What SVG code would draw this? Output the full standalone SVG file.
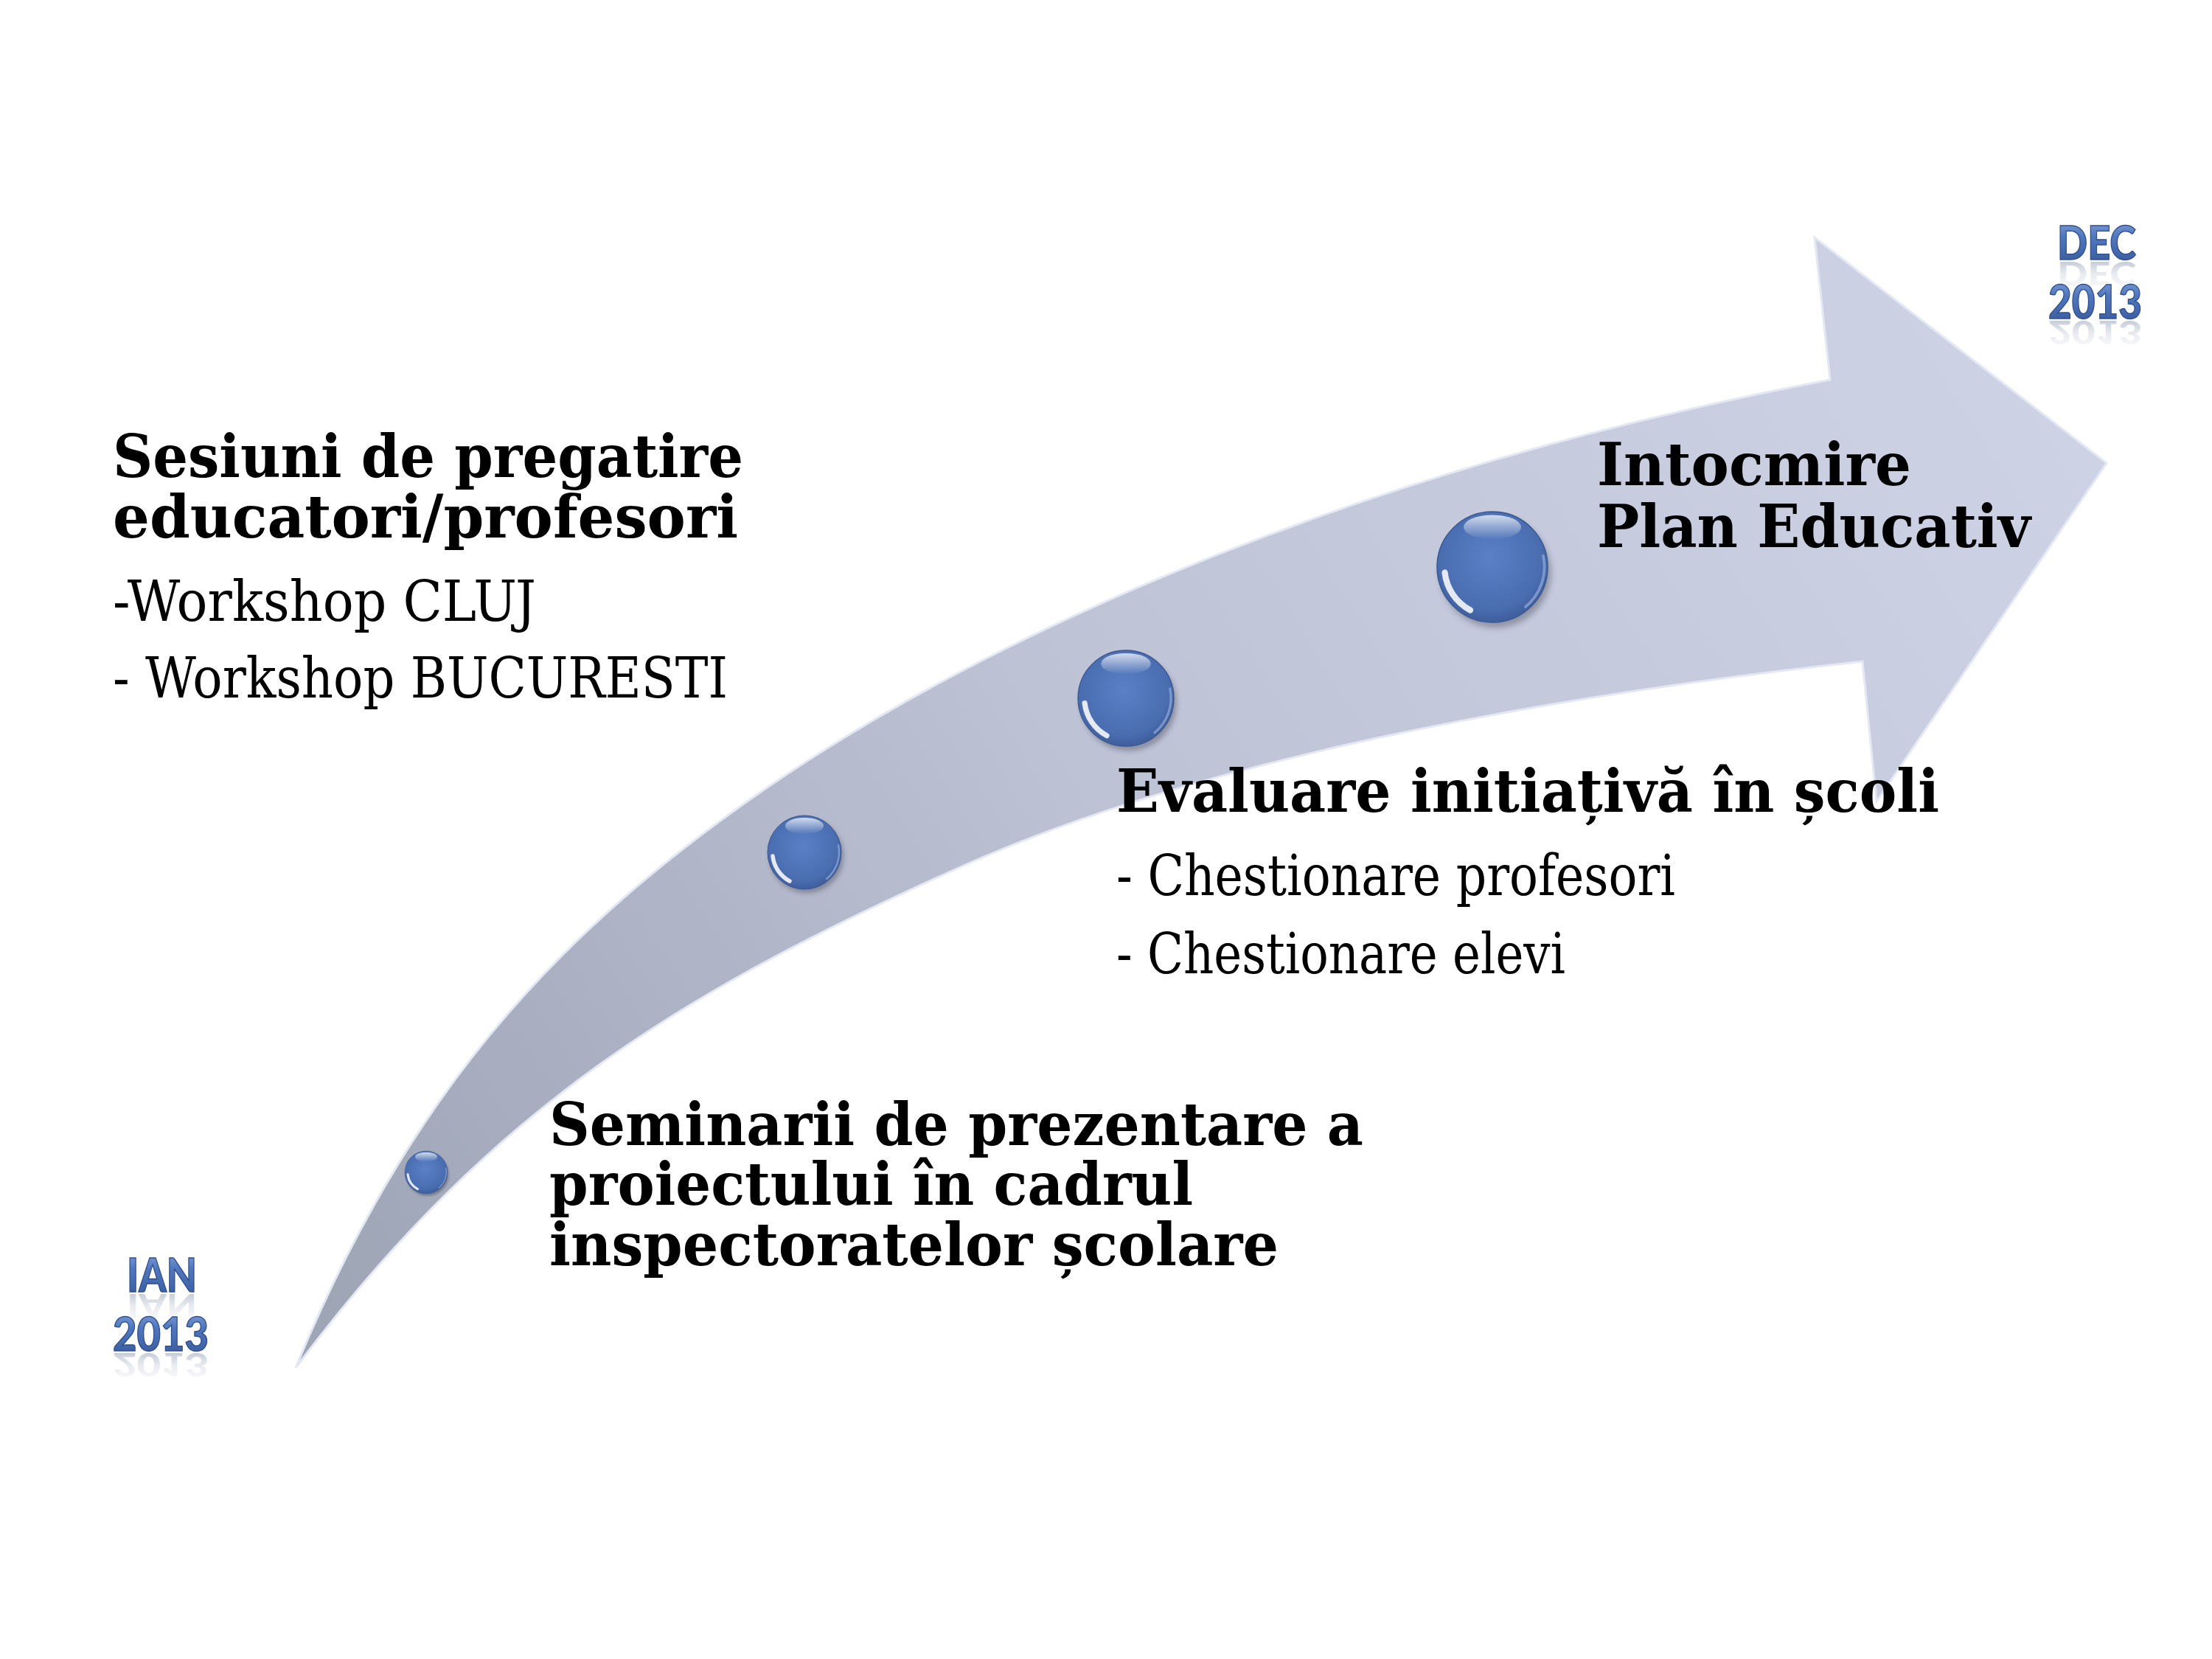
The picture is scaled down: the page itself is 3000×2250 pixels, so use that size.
<svg xmlns="http://www.w3.org/2000/svg" xmlns:xlink="http://www.w3.org/1999/xlink" width="3000" height="2250" viewBox="0 0 3000 2250">
  <defs>
    <style>
      .hb { font-family: "DejaVu Serif", "Liberation Serif", serif; font-weight: bold; font-size: 80px; fill: #000; }
      .rg { font-family: "DejaVu Serif", "Liberation Serif", serif; font-weight: normal; font-size: 76px; fill: #000; }
      .dt { font-family: Lato, "Open Sans", "Liberation Sans", sans-serif; font-weight: 900; font-size: 62px; fill: url(#dateGrad); stroke: #2f4e8a; stroke-width: 1.4; }
      .dr { font-family: Lato, "Open Sans", "Liberation Sans", sans-serif; font-weight: 900; font-size: 62px; fill: url(#reflGrad); }
    </style>
    <linearGradient id="arrowGrad" gradientUnits="userSpaceOnUse" x1="2700" y1="420" x2="480" y2="1820">
      <stop offset="0" stop-color="#cdd3e5"/>
      <stop offset="0.5" stop-color="#bec4d6"/>
      <stop offset="1" stop-color="#9ea5b5"/>
    </linearGradient>
    <linearGradient id="dateGrad" x1="0" y1="0" x2="0" y2="1">
      <stop offset="0" stop-color="#8eabdf"/>
      <stop offset="0.4" stop-color="#5077be"/>
      <stop offset="1" stop-color="#365799"/>
    </linearGradient>
    <linearGradient id="reflGrad" x1="0" y1="0" x2="0" y2="1">
      <stop offset="0" stop-color="#8f9bb3" stop-opacity="0"/>
      <stop offset="0.5" stop-color="#8f9bb3" stop-opacity="0.2"/>
      <stop offset="1" stop-color="#7f8ba5" stop-opacity="0.6"/>
    </linearGradient>
    <radialGradient id="ballGrad" cx="0.48" cy="0.42" r="0.62">
      <stop offset="0" stop-color="#5a80c6"/>
      <stop offset="0.75" stop-color="#4a6db0"/>
      <stop offset="1" stop-color="#3a5894"/>
    </radialGradient>
    <linearGradient id="ballTop" x1="0" y1="0" x2="0" y2="1">
      <stop offset="0" stop-color="#ffffff" stop-opacity="0.75"/>
      <stop offset="1" stop-color="#ffffff" stop-opacity="0"/>
    </linearGradient>
    <filter id="ballShadow" x="-50%" y="-50%" width="200%" height="200%">
      <feGaussianBlur stdDeviation="6"/>
    </filter>
    <g id="ball">
      <ellipse cx="6" cy="10" rx="100" ry="100" fill="#2a2a3a" opacity="0.35" filter="url(#ballShadow)"/>
      <circle cx="0" cy="0" r="100" fill="url(#ballGrad)" stroke="#3a5893" stroke-width="2"/>
      <ellipse cx="0" cy="-72" rx="52" ry="22" fill="url(#ballTop)"/>
      <path d="M -40 78 A 88 88 0 0 1 -86 10" fill="none" stroke="#ffffff" stroke-opacity="0.85" stroke-width="11" stroke-linecap="round"/>
      <path d="M 92 -20 A 94 94 0 0 1 60 72" fill="none" stroke="#9fb7e3" stroke-opacity="0.6" stroke-width="5" stroke-linecap="round"/>
    </g>
  </defs>

  <rect x="0" y="0" width="3000" height="2250" fill="#ffffff"/>

  <g id="timeline-arrow">
    <path d="M 401,1855 C 553,1485 752,1275 995,1100 C 1360,837 1893,627 2482,515 L 2461,322 L 2857,628 L 2545,1087 L 2526,897 C 2079,946 1619,1033.5 1300,1177 C 935,1341 671,1495 401,1855 Z" fill="url(#arrowGrad)" stroke="#e4e8f2" stroke-width="3" stroke-linejoin="miter"/>
  </g>

  <g id="connectors"></g>

  <g id="node-1"><use xlink:href="#ball" href="#ball" transform="translate(578,1590) scale(0.29)"/></g>
  <g id="node-2"><use xlink:href="#ball" href="#ball" transform="translate(1091,1156) scale(0.50)"/></g>
  <g id="node-3"><use xlink:href="#ball" href="#ball" transform="translate(1527,947) scale(0.65)"/></g>
  <g id="node-4"><use xlink:href="#ball" href="#ball" transform="translate(2024,769) scale(0.75)"/></g>

  <g id="label-sesiuni">
    <text class="hb" x="153" y="647" textLength="855" lengthAdjust="spacingAndGlyphs">Sesiuni de pregatire</text>
    <text class="hb" x="153" y="729" textLength="848" lengthAdjust="spacingAndGlyphs">educatori/profesori</text>
    <text class="rg" x="153" y="842" textLength="574" lengthAdjust="spacingAndGlyphs">-Workshop CLUJ</text>
    <text class="rg" x="153" y="946" textLength="834" lengthAdjust="spacingAndGlyphs">- Workshop BUCURESTI</text>
  </g>

  <g id="label-intocmire">
    <text class="hb" x="2166" y="658" textLength="426" lengthAdjust="spacingAndGlyphs">Intocmire</text>
    <text class="hb" x="2166" y="742" textLength="588" lengthAdjust="spacingAndGlyphs">Plan Educativ</text>
  </g>

  <g id="label-evaluare">
    <text class="hb" x="1514" y="1101" textLength="1116" lengthAdjust="spacingAndGlyphs">Evaluare initiațivă în școli</text>
    <text class="rg" x="1514" y="1214" textLength="758" lengthAdjust="spacingAndGlyphs">- Chestionare profesori</text>
    <text class="rg" x="1514" y="1320" textLength="609" lengthAdjust="spacingAndGlyphs">- Chestionare elevi</text>
  </g>

  <g id="label-seminarii">
    <text class="hb" x="745" y="1553" textLength="1104" lengthAdjust="spacingAndGlyphs">Seminarii de prezentare a</text>
    <text class="hb" x="745" y="1634" textLength="873" lengthAdjust="spacingAndGlyphs">proiectului în cadrul</text>
    <text class="hb" x="745" y="1716" textLength="989" lengthAdjust="spacingAndGlyphs">inspectoratelor școlare</text>
  </g>

  <g id="date-start">
    <text class="dr" x="172" y="1752" textLength="95" lengthAdjust="spacingAndGlyphs" transform="translate(0,2981.4) scale(1,-0.7)">IAN</text>
    <text class="dr" x="153" y="1832" textLength="130" lengthAdjust="spacingAndGlyphs" transform="translate(0,3117.4) scale(1,-0.7)">2013</text>
    <text class="dt" x="172" y="1752" textLength="95" lengthAdjust="spacingAndGlyphs">IAN</text>
    <text class="dt" x="153" y="1832" textLength="130" lengthAdjust="spacingAndGlyphs">2013</text>
  </g>

  <g id="date-end">
    <text class="dr" x="2790" y="352" textLength="107" lengthAdjust="spacingAndGlyphs" transform="translate(0,601.4) scale(1,-0.7)">DEC</text>
    <text class="dr" x="2778" y="432" textLength="127" lengthAdjust="spacingAndGlyphs" transform="translate(0,737.4) scale(1,-0.7)">2013</text>
    <text class="dt" x="2790" y="352" textLength="107" lengthAdjust="spacingAndGlyphs">DEC</text>
    <text class="dt" x="2778" y="432" textLength="127" lengthAdjust="spacingAndGlyphs">2013</text>
  </g>
</svg>
